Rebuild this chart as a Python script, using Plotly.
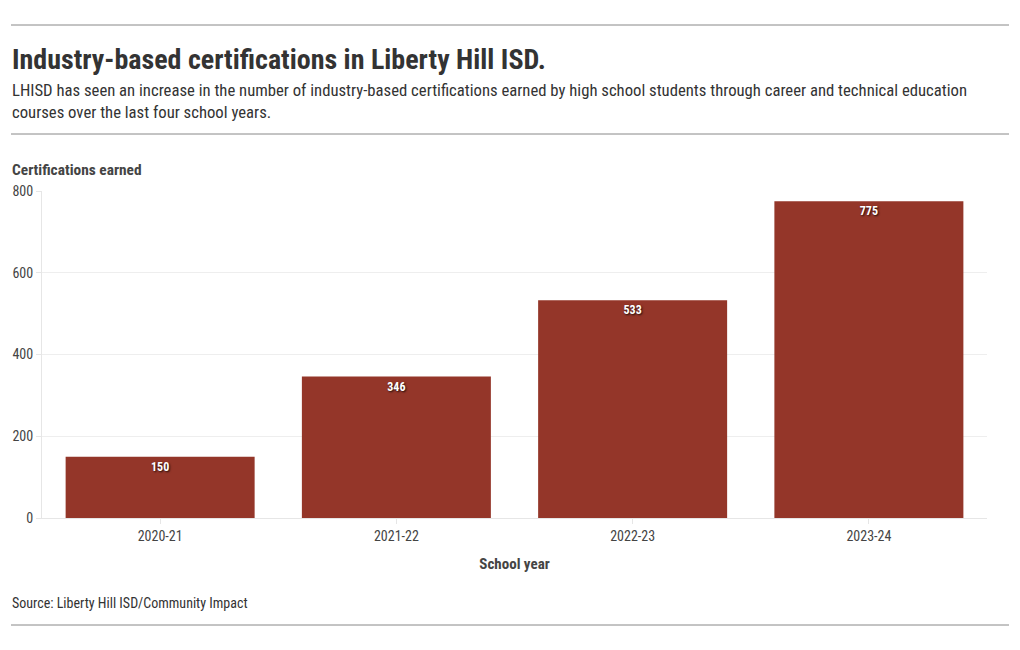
import plotly.graph_objects as go

years = ["2020-21", "2021-22", "2022-23", "2023-24"]
certs = [150, 346, 533, 775]

FONT = "Roboto Condensed, Liberation Sans Narrow, DejaVu Sans Condensed, Roboto, sans-serif"
BAR = "#943629"

fig = go.Figure(go.Bar(
    x=years, y=certs, marker=dict(color=BAR, line=dict(width=0)),
    text=[str(v) for v in certs], textposition="inside", insidetextanchor="end",
    textangle=0,
    textfont=dict(family=FONT, size=12, color="white", weight="bold",
                  shadow="1px 1px 2px rgba(0,0,0,0.8)"),
    hoverinfo="skip",
))

fig.update_layout(
    width=1020, height=650,
    margin=dict(l=34, r=41, t=183, b=140),
    paper_bgcolor="white", plot_bgcolor="white",
    bargap=0.2, showlegend=False,
    font=dict(family=FONT, color="#333333"),
    xaxis=dict(tickfont=dict(size=14, color="#444"), ticks="outside", ticklen=5,
               tickcolor="#e6e6e6", showline=True, linecolor="#e6e6e6",
               showgrid=False, automargin=False,
               title=dict(text="<b>School year</b>", font=dict(size=15, color="#444"), standoff=15)),
    yaxis=dict(range=[0, 800], tickvals=[0, 200, 400, 600, 800], tickfont=dict(size=14, color="#444"),
               ticks="outside", ticklen=5, tickcolor="#e6e6e6", showline=True, automargin=False,
               linecolor="#e6e6e6", gridcolor="#eeeeee", zeroline=False),
)

ph = 327.0
def py(pix):  # pixel y -> paper y
    return (518 - pix) / ph

def px(pix):
    return (pix - 42) / 945.0

for yy in [25, 134, 625]:
    fig.add_shape(type="line", xref="paper", yref="paper",
                  x0=px(11), x1=px(1009), y0=py(yy), y1=py(yy),
                  line=dict(color="#888888", width=1))

fig.add_annotation(text="<b>Industry-based certifications in Liberty Hill ISD.</b>",
                   xref="paper", yref="paper", x=px(10), y=py(59), xanchor="left", yanchor="middle",
                   showarrow=False, font=dict(size=28, color="#333333", family=FONT))
fig.add_annotation(text="LHISD has seen an increase in the number of industry-based certifications earned by high school students through career and technical education<br>courses over the last four school years.",
                   xref="paper", yref="paper", x=px(10), y=py(101), xanchor="left", yanchor="middle",
                   align="left", showarrow=False, font=dict(size=16.7, color="#333333", family=FONT))
fig.add_annotation(text="<b>Certifications earned</b>",
                   xref="paper", yref="paper", x=px(10), y=py(170), xanchor="left", yanchor="middle",
                   showarrow=False, font=dict(size=15.4, color="#444444", family=FONT))
fig.add_annotation(text="Source: Liberty Hill ISD/Community Impact",
                   xref="paper", yref="paper", x=px(10), y=py(603), xanchor="left", yanchor="middle",
                   showarrow=False, font=dict(size=14, color="#333333", family=FONT))

fig.write_html("out.html")
